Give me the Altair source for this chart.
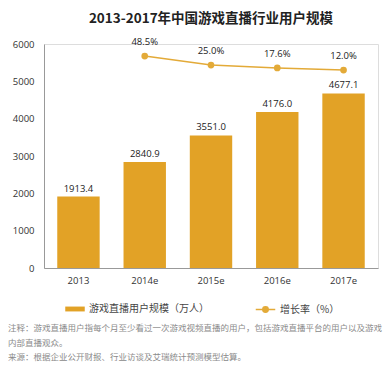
import altair as alt
import pandas as pd

years = ["2013", "2014e", "2015e", "2016e", "2017e"]
users = [1913.4, 2840.9, 3551.0, 4176.0, 4677.1]
user_labels = ["1913.4", "2840.9", "3551.0", "4176.0", "4677.1"]
growth_years = ["2014e", "2015e", "2016e", "2017e"]
growth = [48.5, 25.0, 17.6, 12.0]
growth_labels = ["48.5%", "25.0%", "17.6%", "12.0%"]
y_ticks = [0, 1000, 2000, 3000, 4000, 5000, 6000]
title_text = "2013-2017年中国游戏直播行业用户规模"
bar_name = "游戏直播用户规模（万人）"
line_name = "增长率（%）"
notes = [
    "注释：游戏直播用户指每个月至少看过一次游戏视频直播的用户，包括游戏直播平台的用户以及游戏",
    "内部直播观众。",
    "来源：根据企业公开财报、行业访谈及艾瑞统计预测模型估算。",
]

BAR = "#E2A226"
LINE = "#E3AA38"
FONT = "Noto Sans CJK SC"
NUMFONT = "Open Sans"

bars_df = pd.DataFrame({"year": years, "users": users, "label": user_labels, "series": bar_name})
line_df = pd.DataFrame({"year": growth_years, "growth": growth, "label": growth_labels, "series": line_name})
notes_df = pd.DataFrame({"text": notes, "row": [0, 1, 2]})

x = alt.X("year:N", sort=years, title=None,
          scale=alt.Scale(paddingInner=0.36, paddingOuter=0.2),
          axis=alt.Axis(labelAngle=0, ticks=False, domainColor="#999", labelColor="#333",
                        labelFont=NUMFONT, labelFontSize=9.5, labelPadding=7))

uy = alt.Y("users:Q", title=None, scale=alt.Scale(domain=[0, 6000]),
           axis=alt.Axis(values=y_ticks, tickCount=7, format="d", labelOverlap=False,
                         grid=False, ticks=False,
                         domainColor="#999", labelColor="#333", labelFont=NUMFONT,
                         labelFontSize=9.5, labelPadding=10))

bars = alt.Chart(bars_df).mark_bar(color=BAR).encode(
    x=x,
    y=uy,
    fill=alt.Fill("series:N", scale=alt.Scale(domain=[bar_name], range=[BAR]),
                  legend=alt.Legend(title=None, orient="none", legendX=21, legendY=255,
                                    symbolType="M-1,-0.25H1V0.25H-1Z", symbolSize=380,
                                    labelFont=FONT, labelFontSize=10, labelColor="#444",
                                    symbolStrokeWidth=0)),
)

bar_text = alt.Chart(bars_df).mark_text(dy=-8, fontSize=9.5, font=NUMFONT, color="#222").encode(
    x=x,
    y=uy,
    text="label:N",
)

gy = alt.Y("growth:Q", scale=alt.Scale(domain=[-504, 80]), axis=None)

line = alt.Chart(line_df).mark_line(strokeWidth=1.5).encode(
    x=alt.X("year:N", sort=years),
    y=gy,
    stroke=alt.Stroke("series:N", scale=alt.Scale(domain=[line_name], range=[LINE]),
                      legend=alt.Legend(title=None, orient="none", legendX=211, legendY=255,
                                        symbolType="M-1,0H1M-0.28,0A0.28,0.28 0 1,0 0.28,0A0.28,0.28 0 1,0 -0.28,0Z",
                                        symbolSize=380, symbolStrokeWidth=1.5,
                                        symbolFillColor=LINE,
                                        labelFont=FONT, labelFontSize=10, labelColor="#444")),
)
points = alt.Chart(line_df).mark_point(filled=True, size=45, color=LINE, opacity=1).encode(
    x=alt.X("year:N", sort=years), y=gy)
line_text = alt.Chart(line_df).mark_text(dy=-14, fontSize=9.5, font=NUMFONT, color="#222").encode(
    x=alt.X("year:N", sort=years), y=gy, text="label:N")

note_text = alt.Chart(notes_df).mark_text(align="left", baseline="middle", fontSize=8.5,
                                          font=FONT, color="#8a8a8a").encode(
    x=alt.value(-36),
    y=alt.Y("row:Q", scale=alt.Scale(domain=[0, 2], range=[284, 313]), axis=None),
    text="text:N",
)

chart = alt.layer(
    alt.layer(bars, bar_text),
    alt.layer(line, points, line_text),
    note_text,
).resolve_scale(
    y="independent"
).properties(
    width=334, height=224,
    title=alt.TitleParams(title_text, font=FONT, fontSize=13.5, fontWeight="bold",
                          color="#222", anchor="middle", offset=12),
    padding={"left": 36, "top": 36, "right": 6, "bottom": 99},
    autosize=alt.AutoSizeParams(type="none"),
).configure_view(stroke=None).configure(background="white")

chart.save("out.html", embed_options={"renderer": "svg", "actions": False})
